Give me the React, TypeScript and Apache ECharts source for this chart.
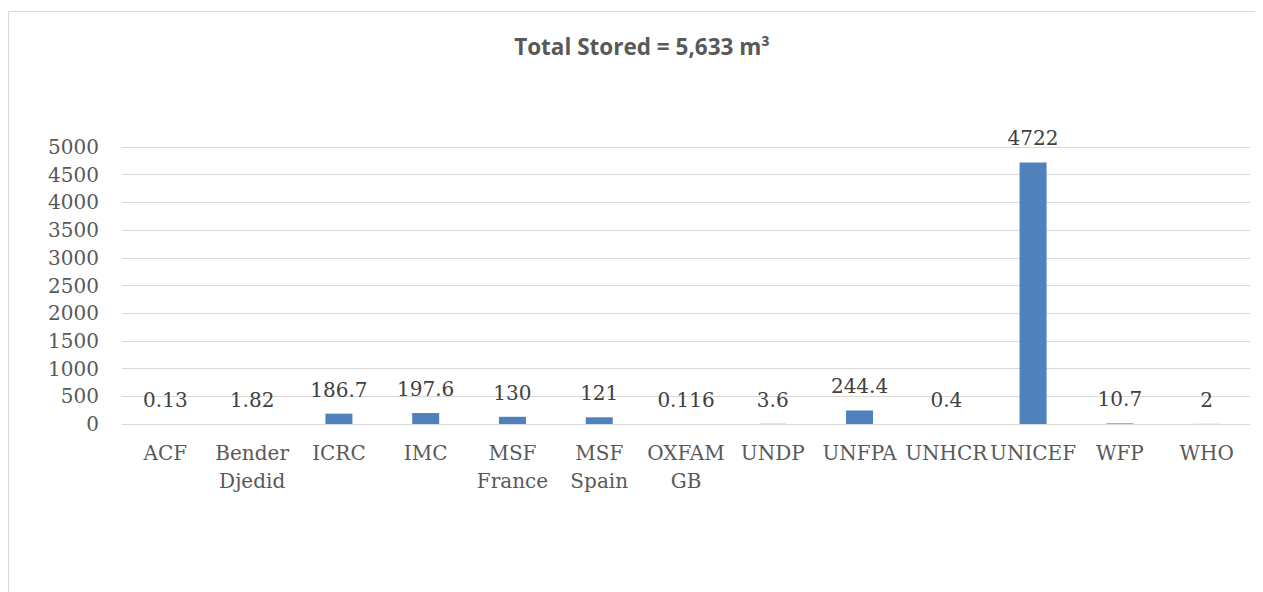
import React, { useEffect, useRef } from "react";
import * as echarts from "echarts";

const categories = [
  "ACF",
  "Bender\nDjedid",
  "ICRC",
  "IMC",
  "MSF\nFrance",
  "MSF\nSpain",
  "OXFAM\nGB",
  "UNDP",
  "UNFPA",
  "UNHCR",
  "UNICEF",
  "WFP",
  "WHO",
];
const storedValues = [0.13, 1.82, 186.7, 197.6, 130, 121, 0.116, 3.6, 244.4, 0.4, 4722, 10.7, 2];
const titleText = "Total Stored = 5,633 m³";
const yMin = 0;
const yMax = 5000;
const yInterval = 500;

export default function App() {
  const ref = useRef<HTMLDivElement>(null);
  useEffect(() => {
    if (!ref.current) return;
    const chart = echarts.init(ref.current, null, { renderer: "svg" });
    const serif = "DejaVu Serif";
    chart.setOption({
      animation: false,
      backgroundColor: "#ffffff",
      graphic: [
        {
          type: "rect",
          shape: { x: 0.5, y: 3.5, width: 3000, height: 3000 },
          style: { fill: "none", stroke: "#d9d9d9", lineWidth: 1 },
          silent: true,
        },
        {
          type: "text",
          x: 634,
          y: 27,
          style: {
            text: titleText,
            fontFamily: "Open Sans",
            fontWeight: "bold",
            fontSize: 22.5,
            fill: "#595959",
            textAlign: "center",
            textVerticalAlign: "top",
          },
        },
      ],
      grid: { left: 114, right: 13, top: 139, bottom: 168, containLabel: false },
      xAxis: {
        type: "category",
        data: categories,
        axisLine: { show: true, lineStyle: { color: "#d9d9d9", width: 1 } },
        axisTick: { show: false },
        axisLabel: {
          interval: 0,
          margin: 15,
          fontFamily: serif,
          fontSize: 20,
          lineHeight: 28,
          color: "#595959",
        },
      },
      yAxis: {
        type: "value",
        min: yMin,
        max: yMax,
        interval: yInterval,
        axisLine: { show: false },
        axisTick: { show: false },
        splitLine: { lineStyle: { color: "#d9d9d9", width: 1 } },
        axisLabel: {
          margin: 23,
          fontFamily: serif,
          fontSize: 20,
          color: "#595959",
          formatter: (v: number) => String(v),
        },
      },
      series: [
        {
          type: "bar",
          data: storedValues,
          barWidth: 27,
          itemStyle: { color: "#4f81bd" },
          label: {
            show: true,
            position: "top",
            distance: 14,
            formatter: "{c}",
            fontFamily: serif,
            fontSize: 20,
            color: "#404040",
          },
        },
      ],
    });
    return () => chart.dispose();
  }, []);
  return <div ref={ref} style={{ width: 1255, height: 584 }} />;
}
